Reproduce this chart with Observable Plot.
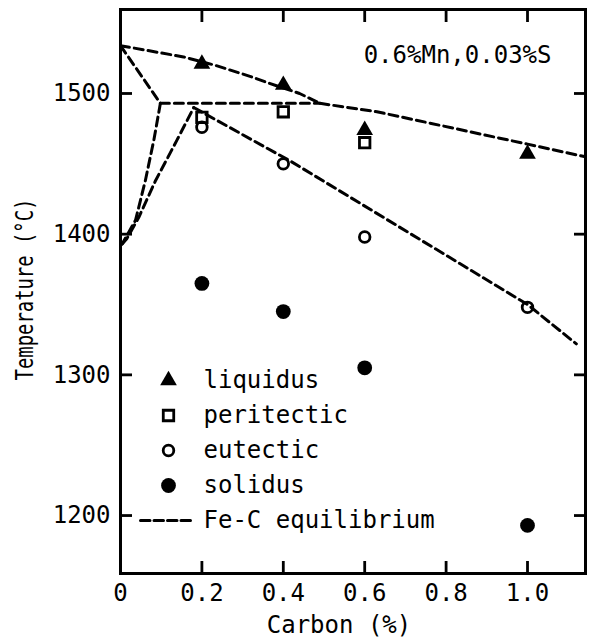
<!DOCTYPE html>
<html>
<head>
<meta charset="utf-8">
<script src="https://cdn.jsdelivr.net/npm/d3@7"></script>
<script src="https://cdn.jsdelivr.net/npm/@observablehq/plot@0.6"></script>
<style>
  html, body { margin: 0; padding: 0; background: #fff; }
</style>
</head>
<body>
<div id="chart"></div>
<script>
// ---- data ----
const carbon = [0.2, 0.4, 0.6, 1.0];
const liquidus = [1521, 1506, 1474, 1457];
const peritecticCarbon = [0.2, 0.4, 0.6];
const peritectic = [1483, 1487, 1465];
const eutectic = [1476, 1450, 1398, 1348];
const solidus = [1365, 1345, 1305, 1193];

// Fe-C equilibrium diagram lines [carbon %, temperature °C]
const eqLiquidusDelta = [[0, 1534], [0.155, 1526], [0.233, 1520], [0.32, 1512], [0.368, 1507], [0.44, 1500], [0.49, 1493]];
const eqLiquidusGamma = [[0.49, 1493], [0.63, 1487], [1.0, 1464], [1.1425, 1455]];
const eqPeritecticLine = [[0.098, 1493], [0.49, 1493]];
const eqSolidusDelta = [[0, 1534], [0.098, 1493]];
const eqDeltaBoundary = [[0.098, 1493], [0.082, 1467], [0.061, 1438], [0.037, 1410], [0.004, 1393]];
const eqGammaBoundary = [[0.004, 1393], [0.016, 1397], [0.045, 1412], [0.086, 1438], [0.139, 1467], [0.18, 1490]];
const eqSolidusGamma = [[0.18, 1490], [0.417, 1452], [1.0, 1350], [1.12, 1322]];

const xTicks = [0, 0.2, 0.4, 0.6, 0.8, 1.0];
const xTickLabels = ["0", "0.2", "0.4", "0.6", "0.8", "1.0"];
const yTicks = [1200, 1300, 1400, 1500];

const xLabel = "Carbon (%)";
const yLabel = "Temperature (°C)";
const note = "0.6%Mn,0.03%S";
const legendLabels = ["liquidus", "peritectic", "eutectic", "solidus", "Fe-C equilibrium"];

// ---- tables built from the arrays ----
const liqRows = carbon.map((c, i) => ({c, t: liquidus[i]}));
const perRows = peritecticCarbon.map((c, i) => ({c, t: peritectic[i]}));
const eutRows = carbon.map((c, i) => ({c, t: eutectic[i]}));
const solRows = carbon.map((c, i) => ({c, t: solidus[i]}));
const eqSegments = {eqLiquidusDelta, eqLiquidusGamma, eqPeritecticLine, eqSolidusDelta, eqDeltaBoundary, eqGammaBoundary, eqSolidusGamma};
const eqRows = Object.entries(eqSegments).flatMap(([seg, pts]) => pts.map(([c, t]) => ({seg, c, t})));

const black = "#000";
const dash = "9,5";
const lineW = 3;

const symbolStyles = [
  {symbol: "triangle", r: 6.2, fill: black, stroke: "none"},
  {symbol: "square", r: 5.9, fill: "none", stroke: black, strokeWidth: 2.8},
  {symbol: "circle", r: 5.3, fill: "none", stroke: black, strokeWidth: 2.8},
  {symbol: "circle", r: 7.4, fill: black, stroke: "none"}
];

const legendTop = 371, legendStep = 35;
const legendMarks = [];
legendLabels.forEach((label, i) => {
  if (i < 4) {
    legendMarks.push(Plot.dot([label], {x: null, y: null, frameAnchor: "top-left", dx: 48, dy: legendTop + legendStep * i, ...symbolStyles[i]}));
  } else {
    legendMarks.push(Plot.vector([label], {
      x: null, y: null, frameAnchor: "top-left", dx: 20, dy: legendTop + legendStep * i,
      rotate: 90, length: 52, anchor: "start", stroke: black, strokeWidth: lineW, strokeDasharray: "9.5,4",
      shape: {draw(context, l) { context.moveTo(0, 0); context.lineTo(0, -l); }}
    }));
  }
  legendMarks.push(Plot.text([label], {
    x: null, y: null, text: d => d, frameAnchor: "top-left", dx: 83, dy: legendTop + legendStep * i,
    textAnchor: "start", lineAnchor: "middle", fontSize: 24, fill: black
  }));
});

const plot = Plot.plot({
  width: 593,
  height: 641,
  marginLeft: 120,
  marginRight: 8,
  marginTop: 9,
  marginBottom: 68,
  style: {fontFamily: "'DejaVu Sans Mono', monospace", fontSize: "24px", color: black, background: "#fff"},
  x: {domain: [0, 1.1425]},
  y: {domain: [1158.8, 1559.7]},
  marks: [
    Plot.line(eqRows, {x: "c", y: "t", z: "seg", stroke: black, strokeWidth: lineW, strokeDasharray: dash}),
    Plot.dot(eutRows, {x: "c", y: "t", ...symbolStyles[2]}),
    Plot.dot(perRows, {x: "c", y: "t", ...symbolStyles[1]}),
    Plot.dot(liqRows, {x: "c", y: "t", ...symbolStyles[0]}),
    Plot.dot(solRows, {x: "c", y: "t", ...symbolStyles[3]}),
    Plot.frame({stroke: black, strokeWidth: 3}),
    Plot.axisX(xTicks, {anchor: "bottom", tickSize: -12, tickPadding: 22, strokeWidth: 2.8, fontSize: 24,
      tickFormat: d => xTickLabels[xTicks.indexOf(d)], label: null}),
    Plot.axisX(xTicks, {anchor: "top", tickSize: -12, strokeWidth: 2.8, tickFormat: () => "", label: null}),
    Plot.axisY(yTicks, {anchor: "left", tickSize: -12, tickPadding: 22, strokeWidth: 2.8, fontSize: 24,
      tickFormat: d => String(d), label: null}),
    Plot.axisY(yTicks, {anchor: "right", tickSize: -12, strokeWidth: 2.8, tickFormat: () => "", label: null}),
    Plot.text([note], {x: null, y: null, text: d => d, frameAnchor: "top-right", dx: -34, dy: 36,
      textAnchor: "end", lineAnchor: "top", fontSize: 24, fill: black}),
    Plot.text([xLabel], {x: null, y: null, text: d => d, frameAnchor: "bottom", dx: -14, dy: 52,
      textAnchor: "middle", lineAnchor: "middle", fontSize: 24, fill: black}),
    Plot.text([yLabel], {x: null, y: null, text: d => d, frameAnchor: "left", dx: -95, dy: -2, rotate: -90,
      textAnchor: "middle", lineAnchor: "middle", fontSize: 24, fill: black}),
    ...legendMarks
  ]
});

// condense the rotated y-axis title along its length, as in the reference
d3.select(plot).selectAll("text")
  .filter(function() { return this.textContent === yLabel; })
  .each(function() {
    const t = this.getAttribute("transform") || "";
    this.setAttribute("transform", (t + " scale(0.787,1)").trim());
  });

document.getElementById("chart").appendChild(plot);
</script>
</body>
</html>
